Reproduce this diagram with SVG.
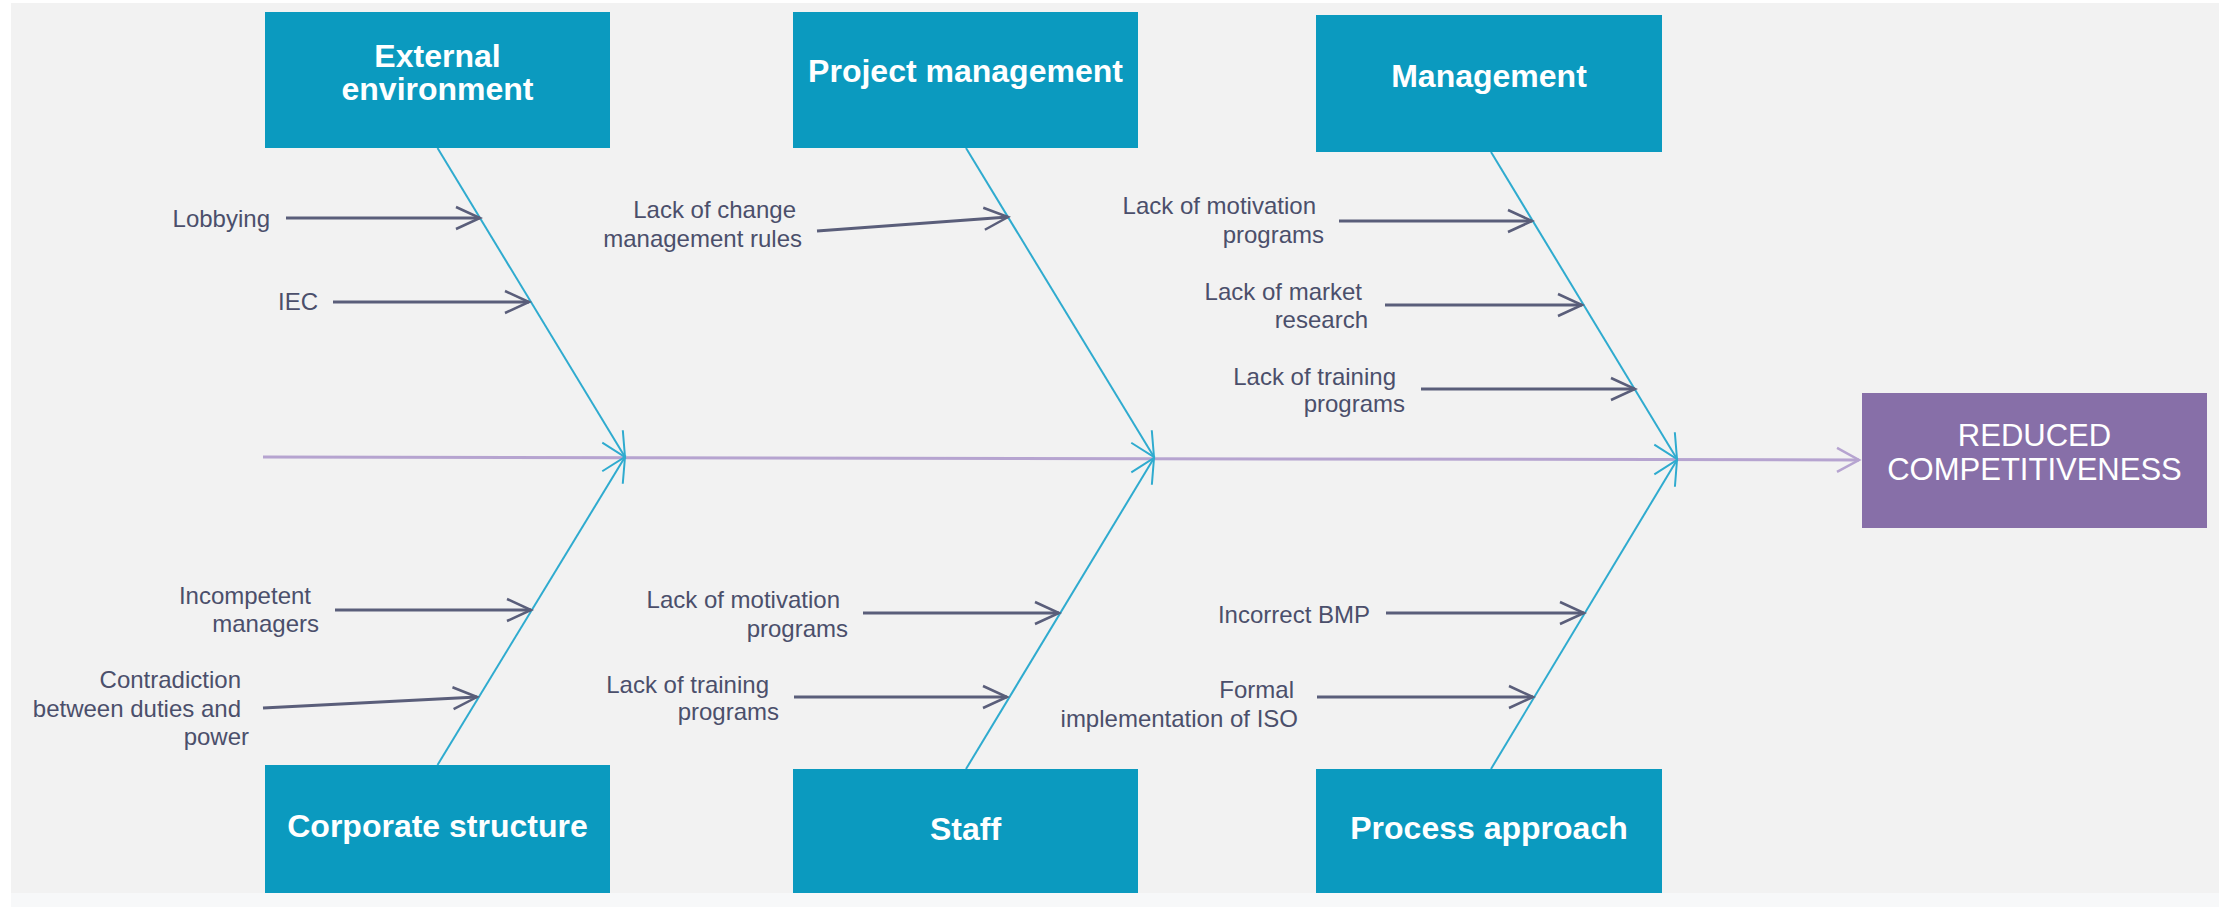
<svg xmlns="http://www.w3.org/2000/svg" width="2224" height="907" viewBox="0 0 2224 907">
  <defs>
    <style>
      .cat { fill: #0b9abf; }
      .cat-text { font-family: "Liberation Sans", Arial, sans-serif; font-weight: bold; font-size: 32px; fill: #ffffff; text-anchor: middle; }
      .effect { fill: #876fa8; }
      .effect-text { font-family: "Liberation Sans", Arial, sans-serif; font-size: 31px; fill: #ffffff; text-anchor: middle; }
      .lbl { font-family: "Liberation Sans", Arial, sans-serif; font-size: 24px; fill: #4b4f6b; text-anchor: end; }
      .bone { stroke: #2fabcf; stroke-width: 2; fill: none; marker-end: url(#boneHead); }
      .sub { stroke: #5a5e7a; stroke-width: 3; fill: none; marker-end: url(#subHead); }
      .spine { stroke: #b6a4d0; stroke-width: 3; fill: none; marker-end: url(#spineHead); }
    </style>
    <marker id="boneHead" markerUnits="userSpaceOnUse" markerWidth="40" markerHeight="40" viewBox="-30 -20 40 40" refX="0" refY="0" orient="auto" overflow="visible">
      <path d="M-24,-12 L0,0 L-24,12" fill="none" stroke="#2fabcf" stroke-width="2"/>
    </marker>
    <marker id="subHead" markerUnits="userSpaceOnUse" markerWidth="40" markerHeight="40" viewBox="-30 -20 40 40" refX="0" refY="0" orient="auto" overflow="visible">
      <path d="M-24,-11 L0,0 L-24,11" fill="none" stroke="#5a5e7a" stroke-width="2.5"/>
    </marker>
    <marker id="spineHead" markerUnits="userSpaceOnUse" markerWidth="40" markerHeight="40" viewBox="-30 -20 40 40" refX="0" refY="0" orient="auto" overflow="visible">
      <path d="M-22,-12 L0,0 L-22,12" fill="none" stroke="#b6a4d0" stroke-width="2.5"/>
    </marker>
  </defs>

  <rect x="0" y="0" width="2224" height="907" fill="#ffffff"/>
  <rect x="11" y="893" width="2208" height="14" fill="#f7f8f9"/>
  <rect x="11" y="3" width="2208" height="890" fill="#f2f2f2"/>

  <g id="connectors">
    <line class="spine" x1="263" y1="457" x2="1859" y2="460"/>
    <line class="bone" x1="437.5" y1="148" x2="625" y2="457"/>
    <line class="bone" x1="437.5" y1="765" x2="625" y2="457"/>
    <line class="bone" x1="966" y1="148" x2="1154" y2="457"/>
    <line class="bone" x1="966" y1="769" x2="1154" y2="458"/>
    <line class="bone" x1="1491" y1="152" x2="1677" y2="459"/>
    <line class="bone" x1="1491" y1="769" x2="1677" y2="460"/>
    <line class="sub" x1="286" y1="218" x2="480" y2="218"/>
    <line class="sub" x1="333" y1="302" x2="529" y2="302"/>
    <line class="sub" x1="335" y1="610" x2="531" y2="610"/>
    <line class="sub" x1="263" y1="708" x2="477" y2="697"/>
    <line class="sub" x1="817" y1="231" x2="1008" y2="217"/>
    <line class="sub" x1="863" y1="613" x2="1059" y2="613"/>
    <line class="sub" x1="794" y1="697" x2="1007" y2="697"/>
    <line class="sub" x1="1339" y1="221" x2="1532" y2="221"/>
    <line class="sub" x1="1385" y1="305" x2="1582" y2="305"/>
    <line class="sub" x1="1421" y1="389" x2="1635" y2="389"/>
    <line class="sub" x1="1386" y1="613" x2="1584" y2="613"/>
    <line class="sub" x1="1317" y1="697" x2="1533" y2="697"/>
  </g>

  <g id="external-environment">
    <rect class="cat" x="265" y="12" width="345" height="136"/>
    <text class="cat-text" x="437.5" y="67">External</text>
    <text class="cat-text" x="437.5" y="100">environment</text>
  </g>
  <g id="project-management">
    <rect class="cat" x="793" y="12" width="345" height="136"/>
    <text class="cat-text" x="965.5" y="82">Project management</text>
  </g>
  <g id="management">
    <rect class="cat" x="1316" y="15" width="346" height="137"/>
    <text class="cat-text" x="1489" y="87">Management</text>
  </g>
  <g id="corporate-structure">
    <rect class="cat" x="265" y="765" width="345" height="128"/>
    <text class="cat-text" x="437.5" y="837">Corporate structure</text>
  </g>
  <g id="staff">
    <rect class="cat" x="793" y="769" width="345" height="124"/>
    <text class="cat-text" x="965.5" y="840">Staff</text>
  </g>
  <g id="process-approach">
    <rect class="cat" x="1316" y="769" width="346" height="124"/>
    <text class="cat-text" x="1489" y="839">Process approach</text>
  </g>
  <g id="reduced-competitiveness">
    <rect class="effect" x="1862" y="393" width="345" height="135"/>
    <text class="effect-text" x="2034.5" y="446">REDUCED</text>
    <text class="effect-text" x="2034.5" y="480">COMPETITIVENESS</text>
  </g>

  <g id="cause-lobbying"><text class="lbl" x="270" y="227">Lobbying</text></g>
  <g id="cause-iec"><text class="lbl" x="318" y="310">IEC</text></g>
  <g id="cause-incompetent-managers">
    <text class="lbl" x="311" y="604">Incompetent</text>
    <text class="lbl" x="319" y="632">managers</text>
  </g>
  <g id="cause-contradiction">
    <text class="lbl" x="241" y="688">Contradiction</text>
    <text class="lbl" x="241" y="717">between duties and</text>
    <text class="lbl" x="249" y="745">power</text>
  </g>
  <g id="cause-change-rules">
    <text class="lbl" x="796" y="218">Lack of change</text>
    <text class="lbl" x="802" y="247">management rules</text>
  </g>
  <g id="cause-staff-motivation">
    <text class="lbl" x="840" y="608">Lack of motivation</text>
    <text class="lbl" x="848" y="637">programs</text>
  </g>
  <g id="cause-staff-training">
    <text class="lbl" x="769" y="693">Lack of training</text>
    <text class="lbl" x="779" y="720">programs</text>
  </g>
  <g id="cause-mgmt-motivation">
    <text class="lbl" x="1316" y="214">Lack of motivation</text>
    <text class="lbl" x="1324" y="243">programs</text>
  </g>
  <g id="cause-market-research">
    <text class="lbl" x="1362" y="300">Lack of market</text>
    <text class="lbl" x="1368" y="328">research</text>
  </g>
  <g id="cause-mgmt-training">
    <text class="lbl" x="1396" y="385">Lack of training</text>
    <text class="lbl" x="1405" y="412">programs</text>
  </g>
  <g id="cause-incorrect-bmp"><text class="lbl" x="1370" y="623">Incorrect BMP</text></g>
  <g id="cause-formal-iso">
    <text class="lbl" x="1294" y="698">Formal</text>
    <text class="lbl" x="1298" y="727">implementation of ISO</text>
  </g>
</svg>
